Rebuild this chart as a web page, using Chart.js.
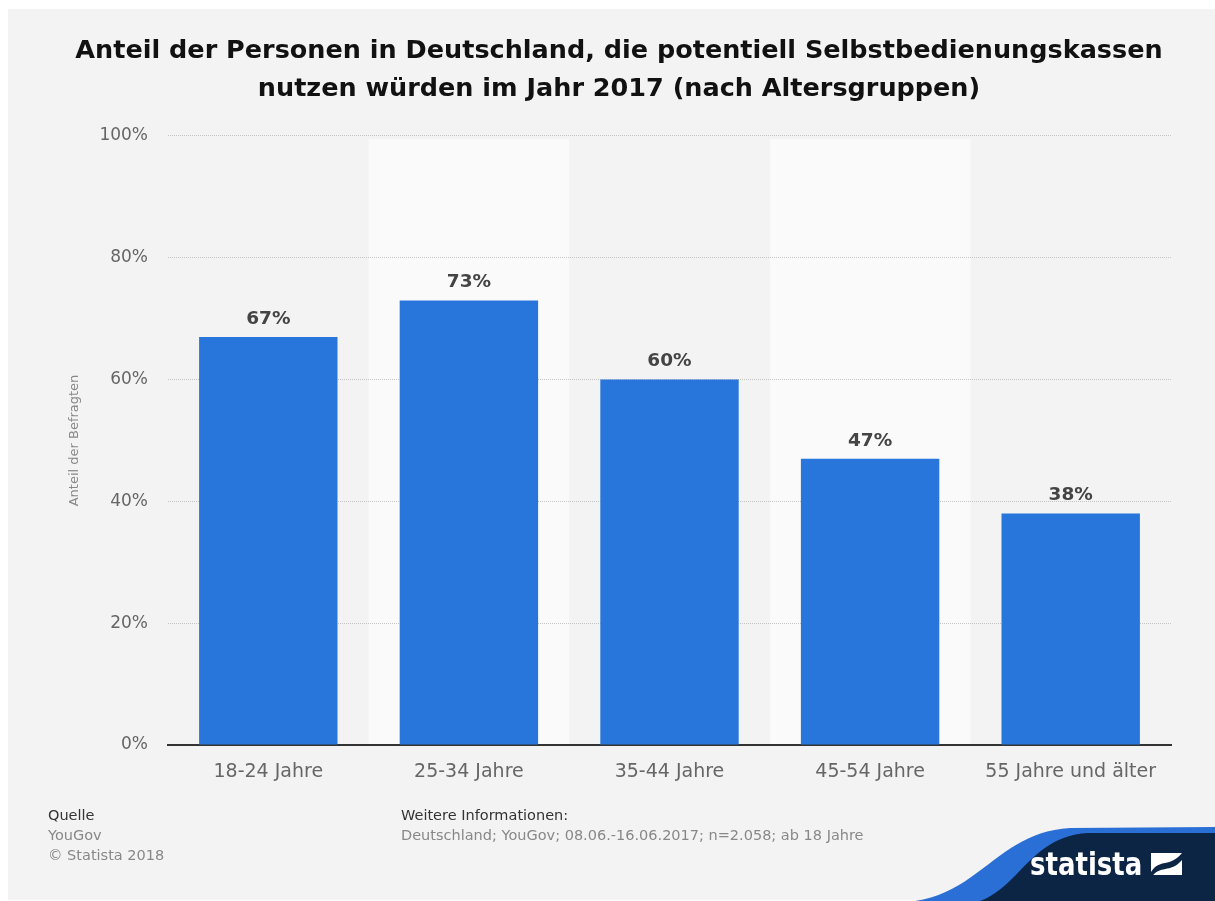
<!DOCTYPE html>
<html>
<head>
<meta charset="utf-8">
<script src="https://cdn.jsdelivr.net/npm/chart.js@4"></script>
<style>
  html, body { margin: 0; padding: 0; background: #fff; }
  body { width: 1215px; height: 901px; position: relative; overflow: hidden; font-family: "DejaVu Sans", sans-serif; }
  .panel { position: absolute; left: 8px; top: 9px; width: 1207px; height: 891px; background: #f3f3f3; }
  #chart { position: absolute; left: 0; top: 0; }
  .foot { position: absolute; font-size: 14.5px; line-height: 20px; }
  .foot .head { color: #333; }
  .foot .txt { color: #888; }
  .logo { position: absolute; left: 0; top: 0; }
  .brand { position: absolute; left: 1030px; top: 848px; color: #fff; font-family: "DejaVu Sans Condensed", "DejaVu Sans", sans-serif; font-weight: bold; font-size: 32px; line-height: 32px; white-space: nowrap; transform-origin: 0 0; }
</style>
</head>
<body>
<div class="panel"></div>
<canvas id="chart" width="1215" height="901"></canvas>

<div class="foot" style="left:48px; top:805px;">
  <div class="head">Quelle</div>
  <div class="txt">YouGov</div>
  <div class="txt">© Statista 2018</div>
</div>
<div class="foot" style="left:401px; top:805px;">
  <div class="head">Weitere Informationen:</div>
  <div class="txt">Deutschland; YouGov; 08.06.-16.06.2017; n=2.058; ab 18 Jahre</div>
</div>

<svg class="logo" width="1215" height="901">
  <path d="M915 901 C 980 892, 1000 832, 1070 828 L 1215 827 L 1215 901 Z" fill="#2a6fd6"/>
  <path d="M980 901 C 1020 886, 1032 836, 1088 833 L 1215 833 L 1215 901 Z" fill="#0c2544"/>
  <rect x="1151" y="853" width="31" height="22" fill="#fff"/>
  <path d="M1151 872 C 1160 858, 1170 868, 1182 853 L 1182 860 C 1170 874, 1160 864, 1151 878 Z" fill="#0c2544"/>
</svg>
<div class="brand" id="brand">statista</div>

<script>
  const categories = ["18-24 Jahre", "25-34 Jahre", "35-44 Jahre", "45-54 Jahre", "55 Jahre und älter"];
  const shares = [67, 73, 60, 47, 38];
  const yTicks = [0, 20, 40, 60, 80, 100];

  const titleLines = [
    "Anteil der Personen in Deutschland, die potentiell Selbstbedienungskassen",
    "nutzen würden im Jahr 2017 (nach Altersgruppen)",
  ];

  // squeeze the logo word into its slot
  const brand = document.getElementById("brand");
  brand.style.transform = "scaleX(" + 112 / brand.offsetWidth + ")";

  // light stripes behind every second category
  const bandPlugin = {
    id: "bands",
    beforeDraw(chart) {
      const { ctx, chartArea, scales } = chart;
      const x = scales.x;
      const step = x.width / categories.length;
      ctx.save();
      ctx.fillStyle = "#fafafa";
      categories.forEach((c, i) => {
        if (i % 2 === 1) {
          const cx = x.getPixelForValue(i);
          ctx.fillRect(cx - step / 2, chartArea.top + 3, step, chartArea.bottom - chartArea.top - 3);
        }
      });
      ctx.restore();
    },
  };

  // value labels above the bars
  const valueLabels = {
    id: "valueLabels",
    afterDatasetsDraw(chart) {
      const { ctx } = chart;
      const meta = chart.getDatasetMeta(0);
      ctx.save();
      ctx.font = "bold 18.5px 'DejaVu Sans'";
      ctx.fillStyle = "#444";
      ctx.textAlign = "center";
      ctx.textBaseline = "middle";
      meta.data.forEach((bar, i) => {
        ctx.fillText(shares[i] + "%", bar.x, bar.y - 18);
      });
      ctx.restore();
    },
  };

  new Chart(document.getElementById("chart"), {
    type: "bar",
    data: {
      labels: categories,
      datasets: [
        {
          label: "Anteil der Befragten",
          data: shares,
          backgroundColor: "#2876dc",
          borderWidth: 0,
          categoryPercentage: 1,
          barPercentage: 0.69,
        },
      ],
    },
    options: {
      responsive: false,
      animation: false,
      layout: { padding: { left: 67, right: 44, top: 0, bottom: 116 } },
      scales: {
        x: {
          grid: { display: false, drawTicks: false },
          border: { display: true, color: "#333", width: 2 },
          ticks: {
            color: "#666",
            font: { family: "DejaVu Sans", size: 19 },
            padding: 16,
          },
          afterFit(scale) {
            scale.height = 40;
          },
        },
        y: {
          min: 0,
          max: 100,
          afterBuildTicks(scale) {
            scale.ticks = yTicks.map((v) => ({ value: v }));
          },
          grid: { color: "#c4c4c4", lineWidth: 1, drawTicks: false },
          border: { display: false, dash: [1, 1] },
          ticks: {
            color: "#666",
            font: { family: "DejaVu Sans", size: 17 },
            padding: 20,
            callback: (v) => v + "%",
          },
          title: {
            display: true,
            text: "Anteil der Befragten",
            color: "#888",
            font: { family: "DejaVu Sans", size: 13 },
            padding: 0,
          },
          afterFit(scale) {
            scale.width = 168 - 67;
          },
        },
      },
      plugins: {
        legend: { display: false },
        tooltip: { enabled: false },
        title: {
          display: true,
          text: titleLines,
          color: "#111",
          font: { family: "DejaVu Sans", size: 25.5, weight: "bold", lineHeight: 1.49 },
          padding: { top: 32, bottom: 28 },
        },
      },
    },
    plugins: [bandPlugin, valueLabels],
  });
</script>
</body>
</html>
